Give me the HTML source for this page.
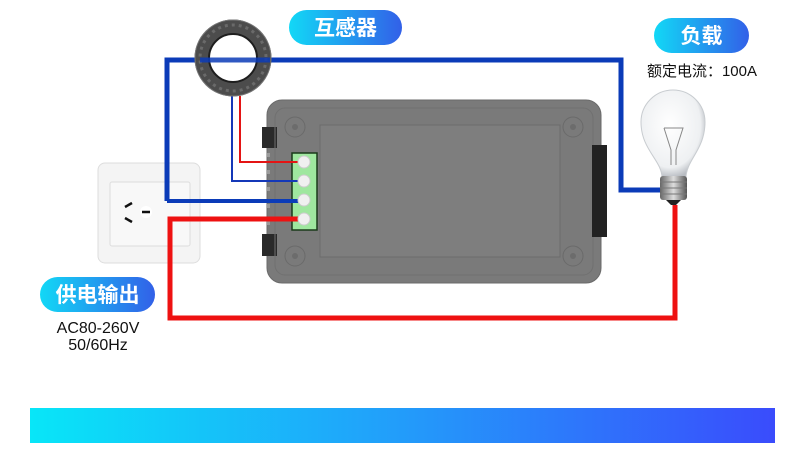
<!DOCTYPE html>
<html><head><meta charset="utf-8"><style>
html,body{margin:0;padding:0;background:#fff;width:800px;height:450px;overflow:hidden}
svg{display:block}
text{font-family:"Liberation Sans","Noto Sans CJK SC",sans-serif}
</style></head><body>
<svg width="800" height="450" viewBox="0 0 800 450" xmlns="http://www.w3.org/2000/svg">
<defs>
<linearGradient id="pill" x1="0" x2="1"><stop offset="0" stop-color="#12d8f6"/><stop offset="1" stop-color="#3260e8"/></linearGradient>
<linearGradient id="bar" x1="0" x2="1"><stop offset="0" stop-color="#08e6f8"/><stop offset="0.45" stop-color="#20a4fa"/><stop offset="1" stop-color="#3a4cfc"/></linearGradient>
<radialGradient id="glob" cx="0.45" cy="0.4" r="0.6"><stop offset="0" stop-color="#fff"/><stop offset="0.8" stop-color="#eef0f2"/><stop offset="1" stop-color="#b8bcc2"/></radialGradient>
<linearGradient id="base" x1="0" x2="1"><stop offset="0" stop-color="#666"/><stop offset="0.5" stop-color="#ddd"/><stop offset="1" stop-color="#555"/></linearGradient>
</defs>

<!-- socket -->
<rect x="98" y="163" width="102" height="100" rx="7" fill="#f4f4f4" stroke="#ddd"/>
<rect x="110" y="182" width="80" height="64" rx="2" fill="#f8f8f8" stroke="#ddd"/>
<line x1="125" y1="207" x2="132" y2="203" stroke="#111" stroke-width="2.5"/>
<line x1="125" y1="218" x2="132" y2="222" stroke="#111" stroke-width="2.5"/>
<circle cx="146" cy="212" r="6" fill="#fff"/>
<line x1="142" y1="212" x2="150" y2="212" stroke="#111" stroke-width="2.5"/>

<!-- device -->
<rect x="267" y="100" width="334" height="183" rx="15" fill="#7a7a7a" stroke="#6a6a6a"/>
<rect x="262" y="127" width="15" height="21" fill="#2a2a2a"/>
<rect x="262" y="234" width="15" height="22" fill="#2a2a2a"/>
<g fill="#9a9a9a"><rect x="267" y="153" width="3" height="4"/><rect x="267" y="170" width="3" height="4"/><rect x="267" y="187" width="3" height="4"/><rect x="267" y="204" width="3" height="4"/><rect x="267" y="221" width="3" height="4"/></g>
<rect x="275" y="108" width="318" height="167" rx="10" fill="none" stroke="#707070"/>
<rect x="320" y="125" width="240" height="132" fill="#7e7e7e" stroke="#6c6c6c"/>
<circle cx="295" cy="127" r="10" fill="none" stroke="#6a6a6a"/><circle cx="295" cy="127" r="3" fill="#6c6c6c"/>
<circle cx="573" cy="127" r="10" fill="none" stroke="#6a6a6a"/><circle cx="573" cy="127" r="3" fill="#6c6c6c"/>
<circle cx="295" cy="256" r="10" fill="none" stroke="#6a6a6a"/><circle cx="295" cy="256" r="3" fill="#6c6c6c"/>
<circle cx="573" cy="256" r="10" fill="none" stroke="#6a6a6a"/><circle cx="573" cy="256" r="3" fill="#6c6c6c"/>
<rect x="592" y="145" width="15" height="92" fill="#222"/>
<rect x="292" y="153" width="25" height="77" fill="#9fe79f" stroke="#1a3a1a" stroke-width="1.5"/>

<!-- thin wires -->
<polyline points="240,96 240,162 303,162" fill="none" stroke="#e41414" stroke-width="2"/>
<polyline points="232,96 232,181 303,181" fill="none" stroke="#1438b8" stroke-width="2"/>
<!-- thick wires -->
<polyline points="167,201 167,60 200,60" fill="none" stroke="#0b3bb8" stroke-width="5"/>
<polyline points="270,60 621,60 621,190 662,190" fill="none" stroke="#0b3bb8" stroke-width="5"/>
<line x1="167" y1="201" x2="305" y2="201" stroke="#0b3bb8" stroke-width="4"/>
<polyline points="305,219 170,219 170,318 675,318 675,205" fill="none" stroke="#ee1111" stroke-width="5"/>

<!-- terminals -->
<g fill="#f0f0f0" stroke="#ccc"><circle cx="304" cy="162" r="6"/><circle cx="304" cy="181" r="6"/><circle cx="304" cy="200" r="6"/><circle cx="304" cy="219" r="6"/></g>

<!-- torus -->
<circle cx="233" cy="58" r="31" fill="none" stroke="#4c4c4c" stroke-width="15"/>
<circle cx="233" cy="58" r="33" fill="none" stroke="#6a6a6a" stroke-width="3" stroke-dasharray="3 4"/>
<circle cx="233" cy="58" r="24" fill="none" stroke="#1e1e1e" stroke-width="2"/>
<circle cx="233" cy="58" r="38" fill="none" stroke="#777" stroke-width="1"/>
<line x1="200" y1="60" x2="270" y2="60" stroke="#0b3bb8" stroke-width="5" opacity="0.85"/>

<!-- bulb -->
<path d="M662,178 C662,160 641,150 641,122 A32,32 0 1 1 705,122 C705,150 686,160 686,178 Z" fill="url(#glob)" stroke="#c8ccd0"/>
<path d="M664,128 L683,128 L676,150 L676,165 M664,128 L671,150 L671,165" fill="none" stroke="#888" stroke-width="1"/>
<rect x="660" y="176" width="27" height="24" rx="3" fill="url(#base)"/>
<g stroke="#777" stroke-width="1"><line x1="660" y1="182" x2="687" y2="182"/><line x1="660" y1="188" x2="687" y2="188"/><line x1="660" y1="194" x2="687" y2="194"/></g>
<path d="M666,200 L681,200 L676,205 L671,205 Z" fill="#222"/>

<!-- labels -->
<rect x="289" y="10" width="113" height="35" rx="17.5" fill="url(#pill)"/>
<text x="345.5" y="35" font-size="21" font-weight="bold" fill="#fff" text-anchor="middle">互感器</text>
<rect x="654" y="18" width="95" height="35" rx="17.5" fill="url(#pill)"/>
<text x="701.5" y="43" font-size="21" font-weight="bold" fill="#fff" text-anchor="middle">负载</text>
<text x="702" y="76" font-size="15" fill="#111" text-anchor="middle">额定电流：100A</text>
<rect x="40" y="277" width="115" height="35" rx="17.5" fill="url(#pill)"/>
<text x="97.5" y="302" font-size="21" font-weight="bold" fill="#fff" text-anchor="middle">供电输出</text>
<text x="98" y="333" font-size="16" fill="#111" text-anchor="middle">AC80-260V</text>
<text x="98" y="350" font-size="16" fill="#111" text-anchor="middle">50/60Hz</text>

<rect x="30" y="408" width="745" height="35" fill="url(#bar)"/>
</svg>
</body></html>
